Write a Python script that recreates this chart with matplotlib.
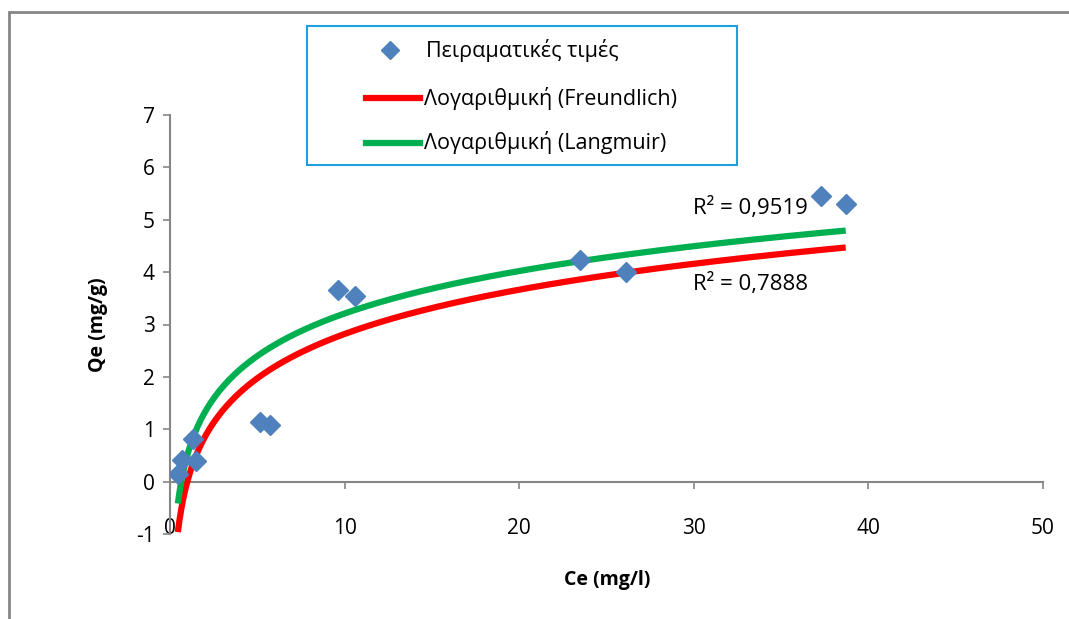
import numpy as np
import matplotlib
matplotlib.use("Agg")
import matplotlib.pyplot as plt
from matplotlib.patches import Rectangle
from matplotlib.lines import Line2D

# ---- data ----
ce = [0.46, 0.7, 1.5, 1.3, 5.15, 5.7, 9.6, 10.6, 23.5, 26.1, 37.3, 38.7]
qe = [0.15, 0.42, 0.40, 0.82, 1.13, 1.09, 3.66, 3.55, 4.24, 4.00, 5.45, 5.30]

# logarithmic trendlines y = a*ln(x) + b (Excel trendlines)
freundlich_a, freundlich_b = 1.22, 0.01
langmuir_a, langmuir_b = 1.17, 0.516
trend_xmin, trend_xmax = 0.45, 38.7

r2_langmuir = "0,9519"
r2_freundlich = "0,7888"

legend_labels = ["Πειραματικές τιμές", "Λογαριθμική (Freundlich)", "Λογαριθμική (Langmuir)"]
xticks = [0, 10, 20, 30, 40, 50]
yticks = [-1, 0, 1, 2, 3, 4, 5, 6, 7]

plt.rcParams['font.family'] = ['Open Sans', 'DejaVu Sans']

W, H = 1069, 619
fig = plt.figure(figsize=(W / 100, H / 100), dpi=100)
fig.patch.set_facecolor('white')

# outer chart border
fig.patches.append(Rectangle((9 / W, -0.1), 1.2, 1 - 12 / H + 0.1, transform=fig.transFigure,
                             fill=False, edgecolor='#868686', linewidth=2))

ax = fig.add_axes([170 / W, 1 - 534 / H, (1043 - 170) / W, (534 - 115) / H])
ax.set_xlim(0, 50)
ax.set_ylim(-1, 7)

xs = np.linspace(trend_xmin, trend_xmax, 400)
ax.plot(xs, freundlich_a * np.log(xs) + freundlich_b, color='#FF0000', lw=4.5, solid_capstyle='butt', zorder=3)
ax.plot(xs, langmuir_a * np.log(xs) + langmuir_b, color='#00B050', lw=4.5, solid_capstyle='butt', zorder=3)
ax.plot(ce, qe, linestyle='none', marker='D', ms=10.5, color='#4F81BD', mec='#4F81BD', zorder=4)

grey = '#868686'
for s in ['top', 'right']:
    ax.spines[s].set_visible(False)
ax.spines['bottom'].set_position(('data', 0))
ax.spines['bottom'].set_color(grey)
ax.spines['left'].set_color(grey)
ax.spines['bottom'].set_linewidth(1.5)
ax.spines['left'].set_linewidth(1.5)
ax.set_xticks(xticks)
ax.set_yticks(yticks)
ax.set_xticklabels([str(t) for t in xticks])
ax.set_yticklabels([str(t) for t in yticks])
ax.tick_params(axis='x', direction='out', length=5, width=1.2, color=grey, pad=21, labelsize=15)
ax.tick_params(axis='y', direction='out', length=5, width=1.2, color=grey, pad=6, labelsize=15)

ax.set_ylabel("Qe (mg/g)", fontsize=14, fontweight='bold', labelpad=20)
fig.text(607 / W, 1 - 580 / H, "Ce (mg/l)", ha='center', va='center', fontsize=14, fontweight='bold')

fig.text(693 / W, 1 - 208 / H, "R² = " + r2_langmuir, ha='left', va='center', fontsize=16)
fig.text(693 / W, 1 - 284 / H, "R² = " + r2_freundlich, ha='left', va='center', fontsize=16)

# legend box
fig.patches.append(Rectangle((307 / W, 1 - 165 / H), (737 - 307) / W, (165 - 26) / H, transform=fig.transFigure,
                             fill=True, facecolor='white', edgecolor='#1EA0E0', linewidth=1.5, zorder=5))
fig.lines.append(Line2D([390 / W], [1 - 50 / H], transform=fig.transFigure, marker='D', ms=9,
                        color='#4F81BD', linestyle='none', zorder=6))
fig.lines.append(Line2D([366 / W, 420 / W], [1 - 98 / H] * 2, transform=fig.transFigure, color='#FF0000',
                        lw=4.5, zorder=6))
fig.lines.append(Line2D([366 / W, 420 / W], [1 - 143 / H] * 2, transform=fig.transFigure, color='#00B050',
                        lw=4.5, zorder=6))
fig.text(426 / W, 1 - 50 / H, legend_labels[0], ha='left', va='center', fontsize=15.5, zorder=7)
fig.text(424 / W, 1 - 98 / H, legend_labels[1], ha='left', va='center', fontsize=15.5, zorder=7)
fig.text(424 / W, 1 - 143 / H, legend_labels[2], ha='left', va='center', fontsize=15.5, zorder=7)

fig.savefig("out.png", dpi=100)
